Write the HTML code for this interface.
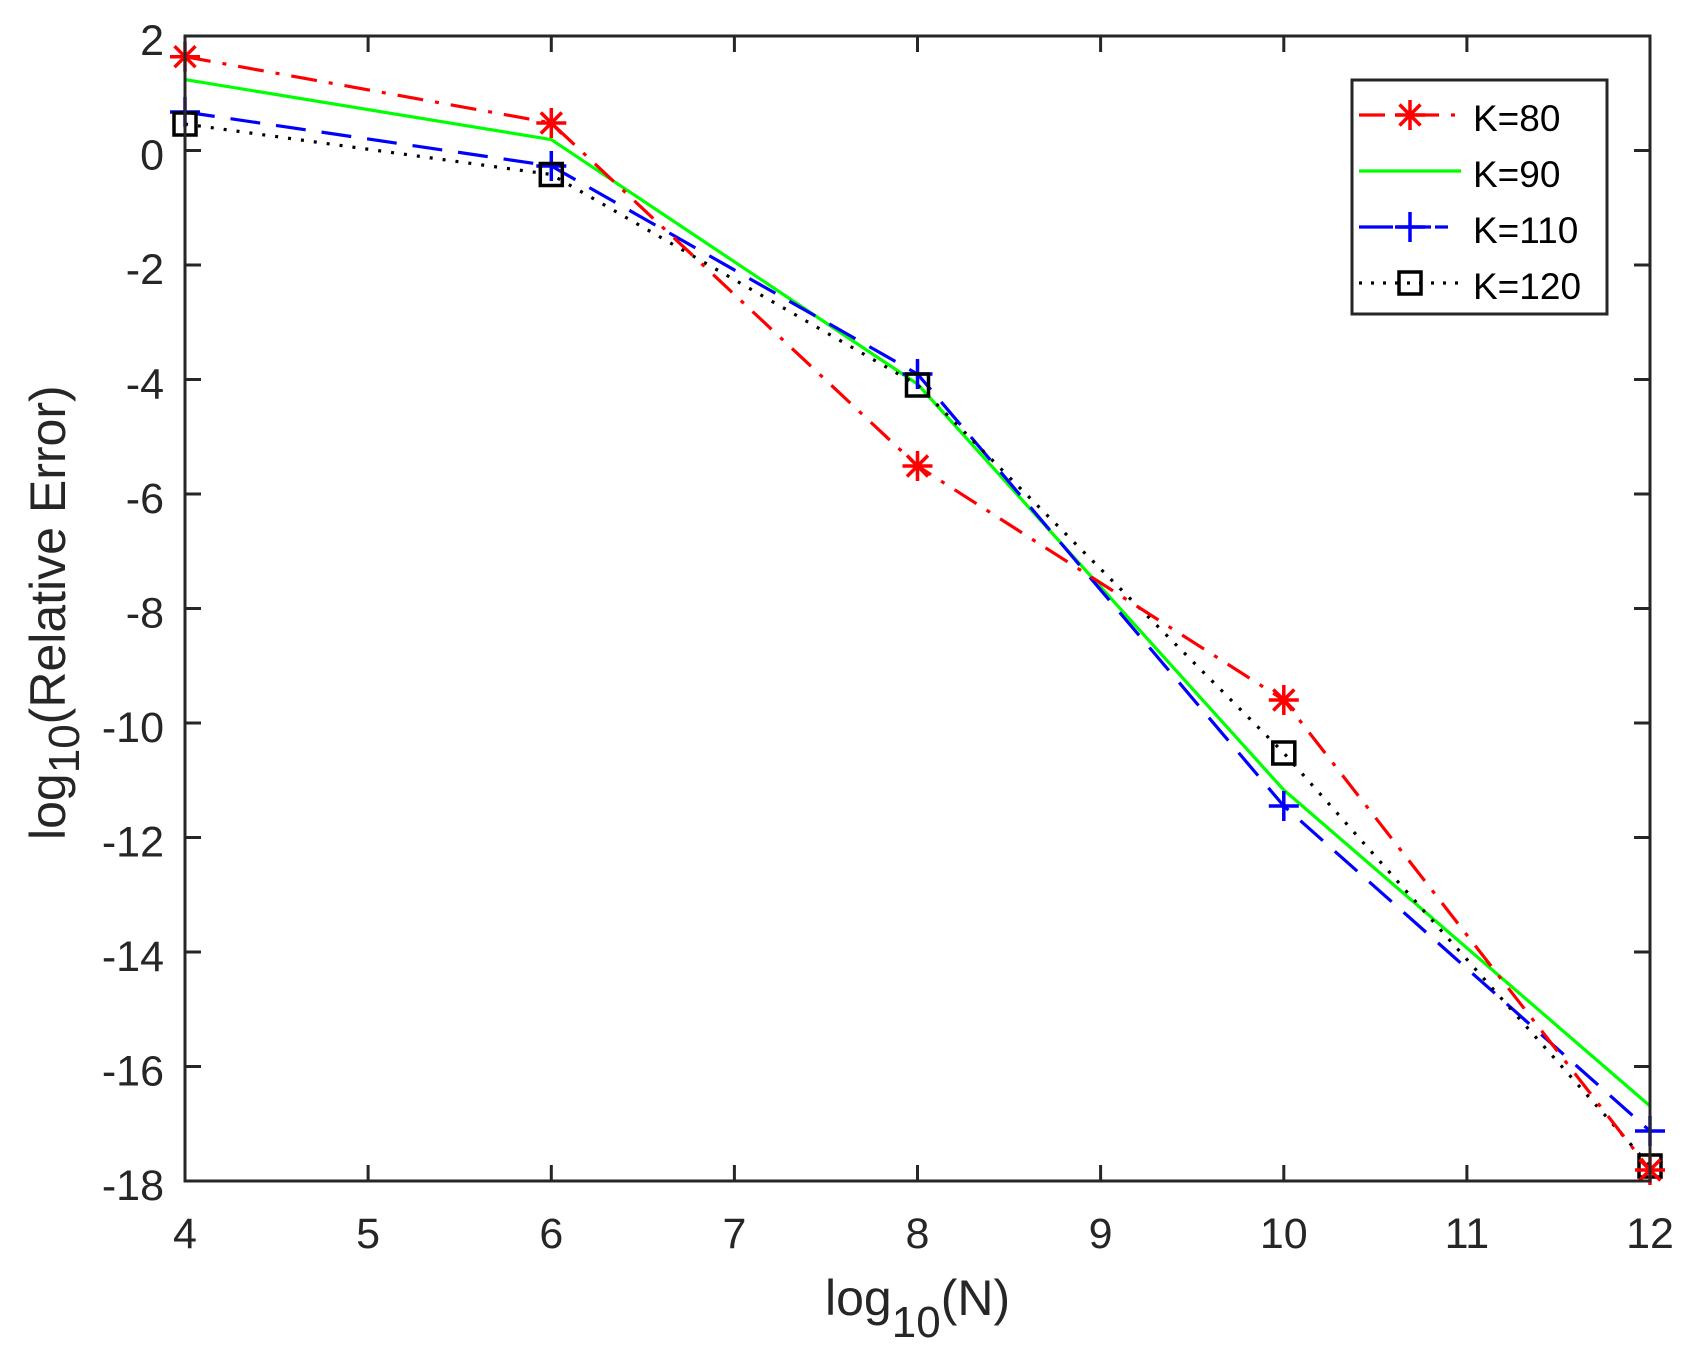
<!DOCTYPE html>
<html><head><meta charset="utf-8"><style>body{margin:0;background:#fff}svg{display:block}</style></head>
<body>
<svg width="1702" height="1366" viewBox="0 0 1702 1366" xmlns="http://www.w3.org/2000/svg" font-family="Liberation Sans, Arial, sans-serif">
<rect width="1702" height="1366" fill="#fff"/>
<defs>
<g id="ast"><path d="M-15,0H15M0,-15V15M-10.5,-10.5L10.5,10.5M-10.5,10.5L10.5,-10.5" stroke="#f00" stroke-width="3.5" fill="none"/></g>
<g id="pl"><path d="M-15,0H15M0,-15V15" stroke="#00f" stroke-width="3.5" fill="none"/></g>
<g id="sq"><rect x="-11" y="-11" width="22" height="22" stroke="#000" stroke-width="3.5" fill="none"/></g>
</defs>
<polyline points="185,79.6 551.3,139.6 917.5,384 1283.8,790 1650,1106" fill="none" stroke="#0f0" stroke-width="3.2"/>
<polyline points="185,112 551.3,166 917.5,374 1283.8,806 1650,1131" fill="none" stroke="#00f" stroke-width="3.2" stroke-dasharray="30,16"/>
<polyline points="185,124 551.3,174.5 917.5,385 1283.8,753 1650,1166" fill="none" stroke="#000" stroke-width="3.2" stroke-dasharray="3,10"/>
<polyline points="185,56.7 551.3,123 917.5,466 1283.8,700 1650,1170" fill="none" stroke="#f00" stroke-width="3.2" stroke-dasharray="26,12,4,12"/>
<use href="#pl" x="185" y="112"/><use href="#pl" x="551.3" y="166"/><use href="#pl" x="917.5" y="374"/><use href="#pl" x="1283.8" y="806"/><use href="#pl" x="1650" y="1131"/>
<use href="#sq" x="185" y="124"/><use href="#sq" x="551.3" y="174.5"/><use href="#sq" x="917.5" y="385"/><use href="#sq" x="1283.8" y="753"/><use href="#sq" x="1650" y="1166"/>
<use href="#ast" x="185" y="56.7"/><use href="#ast" x="551.3" y="123"/><use href="#ast" x="917.5" y="466"/><use href="#ast" x="1283.8" y="700"/><use href="#ast" x="1650" y="1170"/>
<rect x="185" y="36" width="1465" height="1145" fill="none" stroke="#262626" stroke-width="3"/>
<g stroke="#262626" stroke-width="3">
<path d="M368.1,1181v-16M551.3,1181v-16M734.4,1181v-16M917.5,1181v-16M1100.6,1181v-16M1283.8,1181v-16M1466.9,1181v-16"/>
<path d="M368.1,36v16M551.3,36v16M734.4,36v16M917.5,36v16M1100.6,36v16M1283.8,36v16M1466.9,36v16"/>
<path d="M185,150.5h16M185,265h16M185,379.5h16M185,494h16M185,608.5h16M185,723h16M185,837.5h16M185,952h16M185,1066.5h16"/>
<path d="M1650,150.5h-16M1650,265h-16M1650,379.5h-16M1650,494h-16M1650,608.5h-16M1650,723h-16M1650,837.5h-16M1650,952h-16M1650,1066.5h-16"/>
</g>
<g fill="#262626" font-size="43" text-anchor="middle">
<text x="185" y="1248">4</text><text x="368.1" y="1248">5</text><text x="551.3" y="1248">6</text><text x="734.4" y="1248">7</text><text x="917.5" y="1248">8</text><text x="1100.6" y="1248">9</text><text x="1283.8" y="1248">10</text><text x="1466.9" y="1248">11</text><text x="1650" y="1248">12</text>
</g>
<g fill="#262626" font-size="43" text-anchor="end">
<text x="164" y="55">2</text><text x="164" y="169.5">0</text><text x="164" y="284">-2</text><text x="164" y="398.5">-4</text><text x="164" y="513">-6</text><text x="164" y="627.5">-8</text><text x="164" y="742">-10</text><text x="164" y="856.5">-12</text><text x="164" y="971">-14</text><text x="164" y="1085.5">-16</text><text x="164" y="1200">-18</text>
</g>
<text x="825" y="1315" fill="#262626" font-size="50">log<tspan font-size="44" dy="22">10</tspan><tspan dy="-22">(N)</tspan></text>
<text transform="translate(65,840) rotate(-90)" fill="#262626" font-size="50">log<tspan font-size="44" dy="14">10</tspan><tspan dy="-14">(Relative Error)</tspan></text>
<rect x="1352" y="80" width="255" height="234" fill="#fff" stroke="#262626" stroke-width="3"/>
<line x1="1359" y1="115" x2="1461" y2="115" stroke="#f00" stroke-width="3.2" stroke-dasharray="26,12,4,12"/><use href="#ast" x="1410" y="115"/>
<line x1="1359" y1="171" x2="1461" y2="171" stroke="#0f0" stroke-width="3.2"/>
<line x1="1359" y1="227" x2="1448" y2="227" stroke="#00f" stroke-width="3.2" stroke-dasharray="34,4"/><use href="#pl" x="1410" y="227"/>
<line x1="1359" y1="283" x2="1461" y2="283" stroke="#000" stroke-width="3.2" stroke-dasharray="3,9"/><use href="#sq" x="1410" y="283"/>
<g font-size="37" fill="#000">
<text x="1473" y="131">K=80</text><text x="1473" y="187">K=90</text><text x="1473" y="243">K=110</text><text x="1473" y="299">K=120</text>
</g>
</svg>
</body></html>
